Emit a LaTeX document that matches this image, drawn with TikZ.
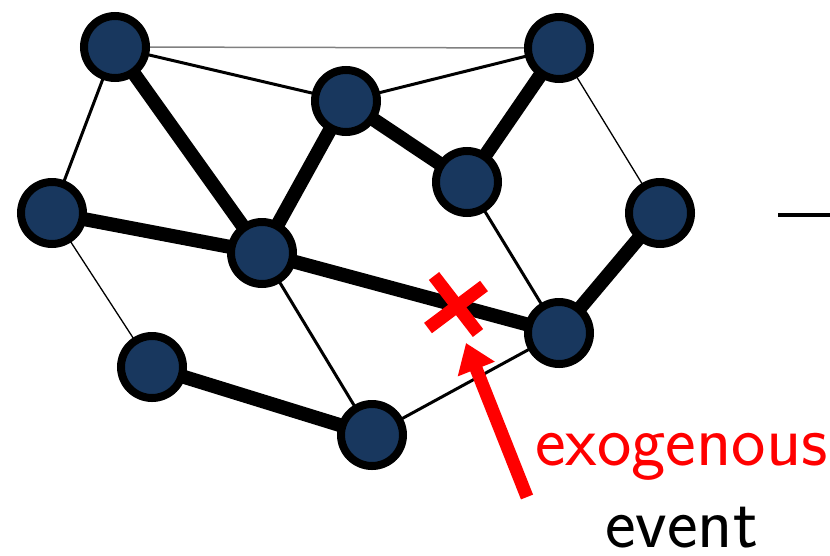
\documentclass[tikz,border=0pt]{standalone}
\usetikzlibrary{arrows.meta}
\definecolor{nodeblue}{RGB}{24,55,94}
\begin{document}
\begin{tikzpicture}[x=1pt,y=-1pt,
  vtx/.style={circle,draw=black,fill=nodeblue,line width=8pt,minimum size=62pt,inner sep=0pt},
  thickedge/.style={line width=14pt},
  midedge/.style={line width=3pt},
  thinedge/.style={line width=1.3pt},
  grayedge/.style={line width=1.5pt,draw=gray},
  lbl/.style={anchor=base west,inner sep=0pt,font=\sffamily\fontsize{73}{86}\selectfont}]
\useasboundingbox (0,0) rectangle (830,555);
\coordinate (A) at (115,47);
\coordinate (B) at (559,48);
\coordinate (C) at (346,101);
\coordinate (D) at (467,182);
\coordinate (E) at (52,213);
\coordinate (F) at (660,213);
\coordinate (G) at (262,253);
\coordinate (H) at (559,333);
\coordinate (I) at (152,367);
\coordinate (J) at (372,435);
% edges
\draw[grayedge] (A) -- (B);
\draw[midedge] (A) -- (C);
\draw[midedge] (A) -- (E);
\draw[thickedge] (A) -- (G);
\draw[midedge] (C) -- (B);
\draw[thickedge] (C) -- (G);
\draw[thickedge] (C) -- (D);
\draw[thickedge] (D) -- (B);
\draw[thinedge] (B) -- (F);
\draw[thickedge] (E) -- (G);
\draw[thinedge] (E) -- (I);
\draw[thickedge] (G) -- (H);
\draw[midedge] (G) -- (J);
\draw[midedge] (D) -- (H);
\draw[thickedge] (F) -- (H);
\draw[thickedge] (I) -- (J);
\draw[midedge] (J) -- (H);
% vertices
\foreach \n in {A,B,C,D,E,F,G,H,I,J}
  \node[vtx] (n\n) at (\n) {};
% red cross
\coordinate (x1) at (434,276);
\coordinate (x2) at (478,333);
\coordinate (x3) at (484,286);
\coordinate (x4) at (428,328);
\draw[red,line width=13pt] (x1) -- (x2);
\draw[red,line width=13pt] (x3) -- (x4);
% arrow
\coordinate (tail) at (527,497);
\coordinate (tip) at (466,343);
\draw[red,line width=13pt,-{Triangle[length=28pt,width=38pt]}] (tail) -- (tip);
% texts
\node[lbl,text=red] (exo) at (535,465) {exogenous};
\node[lbl] (evt) at (605,547) {event};
% cut-off dash at right
\coordinate (m1) at (778,215);
\coordinate (m2) at (830,215);
\draw[line width=4pt] (m1) -- (m2);
\end{tikzpicture}
\end{document}
